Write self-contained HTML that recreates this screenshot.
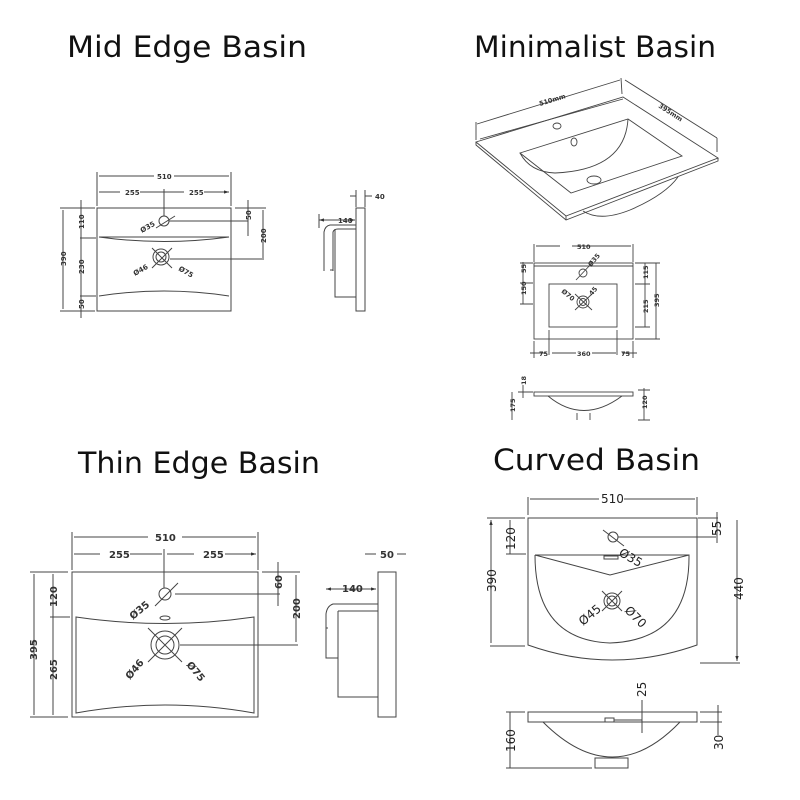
<!DOCTYPE html>
<html><head><meta charset="utf-8"><style>
html,body{margin:0;padding:0;background:#fff}
svg{display:block}
.t{font-family:"DejaVu Sans","Liberation Sans",sans-serif;font-weight:normal;fill:#111}
.d{font-family:"DejaVu Sans","Liberation Sans",sans-serif;font-weight:bold;fill:#333}
</style></head><body>
<svg width="800" height="800" viewBox="0 0 800 800" xmlns="http://www.w3.org/2000/svg">
<defs>
<marker id="a" viewBox="0 0 6 6" refX="6" refY="3" markerWidth="5" markerHeight="5" orient="auto-start-reverse"><path d="M0,1 L6,3 L0,5z" fill="#333"/></marker>
</defs>
<g class="t" font-size="29">
<text x="67" y="57" textLength="240" lengthAdjust="spacingAndGlyphs">Mid Edge Basin</text>
<text x="474" y="57" textLength="242" lengthAdjust="spacingAndGlyphs">Minimalist Basin</text>
<text x="78" y="473" textLength="242" lengthAdjust="spacingAndGlyphs">Thin Edge Basin</text>
<text x="493" y="470" textLength="207" lengthAdjust="spacingAndGlyphs">Curved Basin</text>
</g>

<!-- MID EDGE -->
<g fill="none" stroke="#444" stroke-width="1">
<rect x="97" y="208" width="134" height="103"/>
<path d="M99,237 Q164,246 229,237 Z"/>
<path d="M99,296 Q164,286 229,296"/>
<circle cx="164" cy="221" r="5"/>
<circle cx="161" cy="257" r="8"/><circle cx="161" cy="257" r="5"/>
<path d="M152,248 L172,268 M172,248 L152,268 M156,228 L175,216"/>
<path d="M97,172 V206 M231,172 V206 M164,189 V216"/>
<path d="M99,176 H154 M174,176 H229 M99,192 H120 M140,192 H184 M204,192 H229" marker-end="url(#a)"/>
<path d="M169,221 H248 M170,259 H264 M235,208 H266"/>
<path d="M248,200 V236 M263,210 V258"/>
<path d="M63,210 V309 M81,200 V318 M60,208 H95 M60,311 H95 M80,238 H96 M80,296 H96"/>
<rect x="356" y="208" width="9" height="103"/>
<path d="M356,225 H330 Q325,226 324,232 V271 M333,271 V232 Q334,229 338,229 H356 M335,229 V297 H356"/>
<path d="M330,270 L333,270"/>
<path d="M319,220 H355" marker-end="url(#a)" marker-start="url(#a)"/>
<path d="M319,214 V228 M356,190 V207 M365,190 V207 M350,196 H356 M365,196 H372"/>
</g>
<g class="d" font-size="7">
<text x="157" y="179">510</text>
<text x="125" y="195">255</text><text x="189" y="195">255</text>
<text x="142" y="233" transform="rotate(-30 142 233)">Ø35</text>
<text x="135" y="276" transform="rotate(-30 135 276)">Ø46</text>
<text x="178" y="270" transform="rotate(30 178 270)">Ø75</text>
<text x="338" y="223">140</text><text x="375" y="199">40</text>
<text transform="translate(66,266) rotate(-90)">390</text>
<text transform="translate(84,229) rotate(-90)">110</text>
<text transform="translate(84,274) rotate(-90)">230</text>
<text transform="translate(84,309) rotate(-90)">50</text>
<text transform="translate(251,220) rotate(-90)">50</text>
<text transform="translate(266,243) rotate(-90)">200</text>
</g>

<!-- MINIMALIST -->
<g fill="none" stroke="#444" stroke-width="0.9">
<path d="M476,142 L623,97 L718,158 L566,216 Z"/>
<path d="M476,142 L476,145 L566,220 L718,161 L718,158 M566,216 V220"/>
<path d="M480,139 L623,99"/>
<path d="M520,153 L628,119 L682,156 L571,193 Z"/>
<path d="M628,119 Q625,170 555,173 Q530,172 520,153"/>
<path d="M583,211 Q600,222 630,210 Q665,195 678,177"/>
<ellipse cx="557" cy="126" rx="4" ry="3"/>
<ellipse cx="574" cy="142" rx="3" ry="4"/>
<ellipse cx="594" cy="180" rx="7" ry="4"/>
<path d="M477,124 L620,80 M625,80 L717,138 M717,138 V152 M476,122 V140 M621,78 L622,94" />
<rect x="534" y="263" width="99" height="76"/>
<path d="M534,266 H633"/>
<rect x="549" y="284" width="68" height="43"/>
<circle cx="583" cy="273" r="4"/><circle cx="583" cy="302" r="6"/><circle cx="583" cy="302" r="3.5"/>
<path d="M576,280 L592,263 M575,294 L592,310 M592,294 L575,310"/>
<path d="M534,244 V262 M633,244 V262 M536,246 H560 M572,246 H631 M534,341 V358 M633,341 V358 M549,330 V355 M617,330 V355 M530,353 H546 M552,353 H576 M592,353 H616 M622,353 H637"/>
<path d="M523,262 V304 M520,263 H533 M520,283 H533 M520,304 H533 M645,263 V327 M656,263 V339 M635,263 H660 M635,284 H650 M635,327 H650 M635,339 H660"/>
<rect x="534" y="392" width="99" height="4"/>
<path d="M548,396 Q583,425 622,396 M577,413 V420 M590,413 V420"/>
<path d="M523,385 V398 M512,392 V420 M644,388 V420 M518,392 H533 M638,390 H650 M638,420 H650"/>
</g>
<g class="d" font-size="6.5">
<text x="540" y="106" transform="rotate(-17 540 106)">510mm</text>
<text x="658" y="107" transform="rotate(33 658 107)">395mm</text>
<text x="577" y="249">510</text>
<text x="591" y="267" transform="rotate(-50 591 267)">Ø35</text>
<text x="561" y="292" transform="rotate(40 561 292)">Ø70</text>
<text x="592" y="296" transform="rotate(-50 592 296)">45</text>
<text x="539" y="356">75</text><text x="577" y="356">360</text><text x="621" y="356">75</text>
<text transform="translate(526,273) rotate(-90)">55</text>
<text transform="translate(526,295) rotate(-90)">150</text>
<text transform="translate(648,279) rotate(-90)">115</text>
<text transform="translate(648,313) rotate(-90)">215</text>
<text transform="translate(659,307) rotate(-90)">395</text>
<text transform="translate(526,385) rotate(-90)">18</text>
<text transform="translate(515,412) rotate(-90)">175</text>
<text transform="translate(647,409) rotate(-90)">120</text>
</g>

<!-- THIN EDGE -->
<g fill="none" stroke="#444" stroke-width="1">
<rect x="72" y="572" width="186" height="145"/>
<path d="M76,617 Q165,630 254,617 L254,713 Q165,697 76,713 Z"/>
<circle cx="165" cy="594" r="6"/>
<ellipse cx="165" cy="618" rx="5" ry="2"/>
<circle cx="165" cy="645" r="14"/><circle cx="165" cy="645" r="9"/>
<path d="M148,628 L182,662 M182,628 L148,662 M155,606 L178,583"/>
<path d="M72,532 V570 M258,532 V570 M164,549 V588"/>
<path d="M74,537 H148 M182,537 H256 M74,554 H100 M130,554 H162 M167,554 H194 M225,554 H256" marker-end="url(#a)"/>
<path d="M175,594 H280 M180,645 H298 M262,572 H300"/>
<path d="M278,562 V606 M296,575 V642"/>
<path d="M34,574 V715 M53,574 V715 M30,572 H68 M30,717 H68 M50,617 H70"/>
<rect x="378" y="572" width="18" height="145"/>
<path d="M378,604 H333 Q327,606 326,614 V658 H338 M338,611 V697 H378 M338,611 H378 M326,628 H328"/>
<path d="M326,589 H376" marker-end="url(#a)" marker-start="url(#a)"/>
<path d="M365,554 H376 M397,554 H406"/>
</g>
<g class="d" font-size="10">
<text x="155" y="541">510</text>
<text x="109" y="558">255</text><text x="203" y="558">255</text>
<text x="133" y="620" transform="rotate(-40 133 620)">Ø35</text>
<text x="130" y="680" transform="rotate(-50 130 680)">Ø46</text>
<text x="186" y="665" transform="rotate(50 186 665)">Ø75</text>
<text x="342" y="592">140</text><text x="380" y="558">50</text>
<text transform="translate(37,660) rotate(-90)">395</text>
<text transform="translate(57,607) rotate(-90)">120</text>
<text transform="translate(57,680) rotate(-90)">265</text>
<text transform="translate(282,589) rotate(-90)">60</text>
<text transform="translate(300,619) rotate(-90)">200</text>
</g>

<!-- CURVED -->
<g fill="none" stroke="#444" stroke-width="1">
<path d="M528,518 H697 V645 Q612,675 528,645 Z"/>
<path d="M535,555 L610,575 L689,555 Q690,640 610,643 Q535,640 535,555"/>
<path d="M535,555 H689"/>
<circle cx="613" cy="537" r="5"/>
<rect x="604" y="556" width="14" height="3"/>
<circle cx="612" cy="601" r="8"/><circle cx="612" cy="601" r="5"/>
<path d="M602,591 L622,611 M622,591 L602,611 M603,530 L624,546"/>
<path d="M528,497 V515 M697,497 V515 M530,499 H599 M624,499 H695 M618,537 H716 M698,518 H718 M700,663 H740"/>
<path d="M491,520 V643 M510,520 V554 M487,518 H525 M490,646 H525 M506,554 H526 M717,512 V543 M737,520 V661" marker-start="url(#a)" marker-end="url(#a)"/>
<rect x="528" y="712" width="169" height="10"/>
<path d="M543,722 Q613,792 680,722"/>
<rect x="595" y="758" width="33" height="10"/>
<rect x="605" y="718" width="9" height="4"/>
<path d="M614,720 H642"/>
<path d="M510,712 V768 M506,712 H525 M506,768 H592 M718,705 V735 M700,712 H722 M700,722 H722 M642,700 V733"/>
</g>
<g class="d" font-size="12" style="font-weight:normal;fill:#222">
<text x="601" y="503">510</text>
<text x="618" y="555" transform="rotate(30 618 555)">Ø35</text>
<text x="583" y="626" transform="rotate(-40 583 626)">Ø45</text>
<text x="624" y="611" transform="rotate(45 624 611)">Ø70</text>
<text transform="translate(496,592) rotate(-90)">390</text>
<text transform="translate(515,550) rotate(-90)">120</text>
<text transform="translate(721,536) rotate(-90)">55</text>
<text transform="translate(743,600) rotate(-90)">440</text>
<text transform="translate(646,697) rotate(-90)">25</text>
<text transform="translate(515,752) rotate(-90)">160</text>
<text transform="translate(723,750) rotate(-90)">30</text>
</g>
</svg>
</body></html>
